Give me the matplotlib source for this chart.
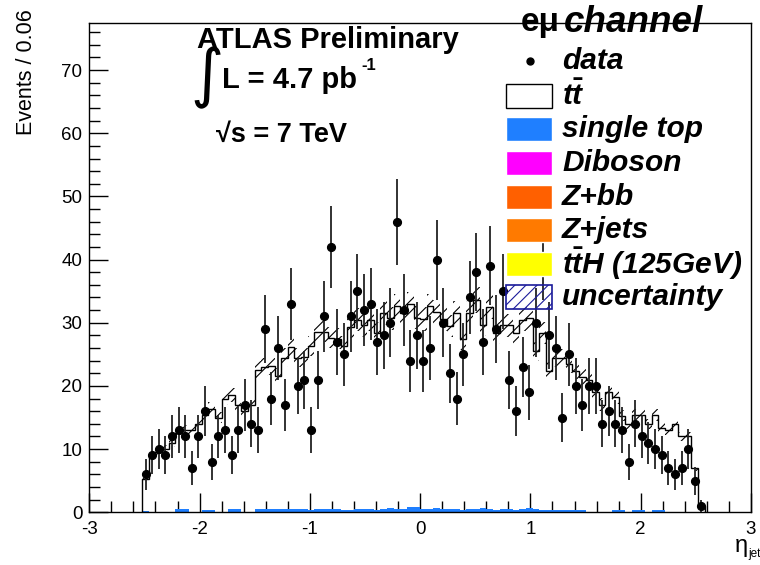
import numpy as np
import matplotlib
matplotlib.use("Agg")
import matplotlib.pyplot as plt
from matplotlib.patches import Rectangle
from matplotlib.ticker import MultipleLocator

plt.rcParams['font.family'] = ['Liberation Sans', 'DejaVu Sans']
plt.rcParams['mathtext.fontset'] = 'custom'
plt.rcParams['mathtext.it'] = 'Liberation Sans:italic:bold'
plt.rcParams['mathtext.rm'] = 'Liberation Sans:bold'
plt.rcParams['axes.unicode_minus'] = False
plt.rcParams['hatch.linewidth'] = 0.8

# ---- data ----
bin_lo = -2.52
bin_w = 0.06
data = [6, 9, 10, 9, 12, 13, 12, 7, 12, 16, 8, 12, 13, 9, 13, 17, 14, 13, 29, 18,
        26, 17, 33, 20, 21, 13, 21, 31, 42, 27, 25, 31, 35, 32, 33, 27, 28, 30, 46, 32,
        24, 28, 24, 26, 40, 30, 22, 18, 25, 34, 38, 27, 39, 29, 35, 21, 16, 23, 19, 30,
        40, 28, 26, 15, 25, 20, 17, 20, 20, 14, 16, 14, 13, 8, 14, 12, 11, 10, 9, 7,
        6, 7, 10, 5, 1]
ttbar = [5, 9, 9.5, 10, 11, 12, 12.5, 13, 14, 15, 16, 15, 18, 18, 16.5, 16, 17, 22, 22.5, 22.5,
         21, 24, 25.5, 24, 24, 26, 28, 28, 27, 27, 26, 29, 30, 29, 30, 28, 31, 30, 32, 31,
         32, 30, 30, 32, 31, 30, 29, 31, 27, 31, 33, 29, 32, 28, 29, 29, 28, 30, 30, 25,
         28, 22, 24, 24, 23, 22, 21, 21, 19, 17, 19, 18, 15, 14, 15, 15, 14, 15, 13, 13,
         14, 12, 12, 7, 1]
single_top = [0.2, 0, 0, 0, 0, 0.5, 0.5, 0, 0, 0.4, 0.4, 0, 0, 0.5, 0.5, 0, 0, 0.6, 0.5, 0.6,
              0.6, 0.5, 0.6, 0.5, 0.6, 0.4, 0.5, 0.6, 0.6, 0.5, 0.4, 0.4, 0.5, 0.6, 0.5, 0.4, 0.5, 0.7, 0.6, 0.6,
              0.9, 0.8, 0.6, 0.6, 0.7, 0.6, 0.5, 0.6, 0.4, 0.5, 0.6, 0.7, 0.5, 0.4, 0.6, 0.6, 0.4, 0.5, 0.7, 0.5,
              0.4, 0.4, 0.4, 0.4, 0.4, 0.4, 0.4, 0, 0, 0, 0, 0.3, 0.3, 0, 0.4, 0.4, 0, 0.4, 0.4, 0,
              0, 0, 0, 0, 0]
unc_frac = 0.06

edges = bin_lo + bin_w * np.arange(len(data) + 1)
centers = 0.5 * (edges[:-1] + edges[1:])
d = np.array(data, float)
st = np.array(single_top, float)
tot = np.array(ttbar, float) + st

W, H = 760, 565
fig = plt.figure(figsize=(W / 100, H / 100), dpi=100)
ax = fig.add_axes([89.3 / W, 52.7 / H, (751 - 89.3) / W, (512.3 - 23.3) / H])

ax.stairs(tot, edges, fill=True, facecolor='white', edgecolor='none', zorder=1)
ax.stairs(st, edges, fill=True, facecolor='#1f7fff', edgecolor='none', zorder=2)
ax.stairs(tot * (1 + unc_frac), edges, baseline=tot * (1 - unc_frac), fill=True,
          facecolor='none', edgecolor='black', linewidth=0, hatch='///', zorder=3)
ax.stairs(tot, edges, color='black', linewidth=1.0, zorder=4)
ax.errorbar(centers, d, yerr=np.sqrt(d), fmt='o', color='black', ms=5.6,
            ecolor='#222222', elinewidth=1.3, capsize=0, zorder=5)

ax.set_xlim(-3, 3)
ax.set_ylim(0, 77.4)
ax.xaxis.set_major_locator(MultipleLocator(1))
ax.xaxis.set_minor_locator(MultipleLocator(0.2))
ax.yaxis.set_major_locator(MultipleLocator(10))
ax.yaxis.set_minor_locator(MultipleLocator(2))
ax.tick_params(which='both', direction='in', top=False, right=False, labelsize=13.5, width=1)
ax.tick_params(which='major', length=14)
ax.tick_params(which='minor', length=8)
ax.tick_params(axis='x', pad=6)
ax.tick_params(axis='y', pad=5)
for s in ax.spines.values():
    s.set_linewidth(1)

def P(x, y):
    return x / W, 1 - y / H

fig.text(*P(27, 9), 'Events / 0.06', rotation=90, ha='center', va='top', fontsize=15.5)
fig.text(*P(748, 546), 'η', ha='right', va='center', fontsize=17)
fig.text(*P(748, 554), 'jet', ha='left', va='center', fontsize=8.5)

fig.text(*P(197, 40), 'ATLAS Preliminary', ha='left', va='center', fontsize=21, fontweight='bold')
fig.text(*P(207, 78), '∫', ha='center', va='center', fontsize=46, family='DejaVu Sans')
fig.text(*P(222, 80), 'L = 4.7 pb', ha='left', va='center', fontsize=21, fontweight='bold')
fig.text(*P(361, 66), '-1', ha='left', va='center', fontsize=12, fontweight='bold')
fig.text(*P(216, 135), '√s = 7 TeV', ha='left', va='center', fontsize=19.5, fontweight='bold')

# legend
lx0, lx1 = 506, 552
tx = 562
fsl = 21.5
fig.text(*P(521, 22), 'eμ', ha='left', va='center', fontsize=24, fontweight='bold')
fig.text(*P(564, 22), 'channel', ha='left', va='center', fontsize=26.5, fontweight='bold', style='italic')
rows = [('data', 61), (r'$t\bar{t}$', 96), ('single top', 129), ('Diboson', 163),
        ('Z+bb', 197), ('Z+jets', 230), (r'$t\bar{t}$H (125GeV)', 264), ('uncertainty', 297)]
cols = [None, 'white', '#1f7fff', '#ff00ff', '#ff6000', '#ff7a00', '#ffff00', None]
for (lab, yc), c in zip(rows, cols):
    fig.text(*P(tx, yc), lab, ha='left', va='center', fontsize=fsl, fontweight='bold', style='italic')
    if lab == 'data':
        fig.lines.append(plt.Line2D([530 / W], [1 - yc / H], marker='o', ms=5, color='black',
                                    transform=fig.transFigure))
        continue
    x0, y0 = P(lx0, yc + 12)
    x1, y1 = P(lx1, yc - 12)
    if lab == 'uncertainty':
        fig.patches.append(Rectangle((x0, y0), x1 - x0, y1 - y0, transform=fig.transFigure,
                                     facecolor='none', edgecolor='#1a1a9a', hatch='///', lw=1.2))
    elif c == 'white':
        fig.patches.append(Rectangle((x0, y0), x1 - x0, y1 - y0, transform=fig.transFigure,
                                     facecolor='white', edgecolor='black', lw=1))
    else:
        fig.patches.append(Rectangle((x0, y0), x1 - x0, y1 - y0, transform=fig.transFigure,
                                     facecolor=c, edgecolor='white', lw=1))

fig.savefig('out.png', dpi=100)
